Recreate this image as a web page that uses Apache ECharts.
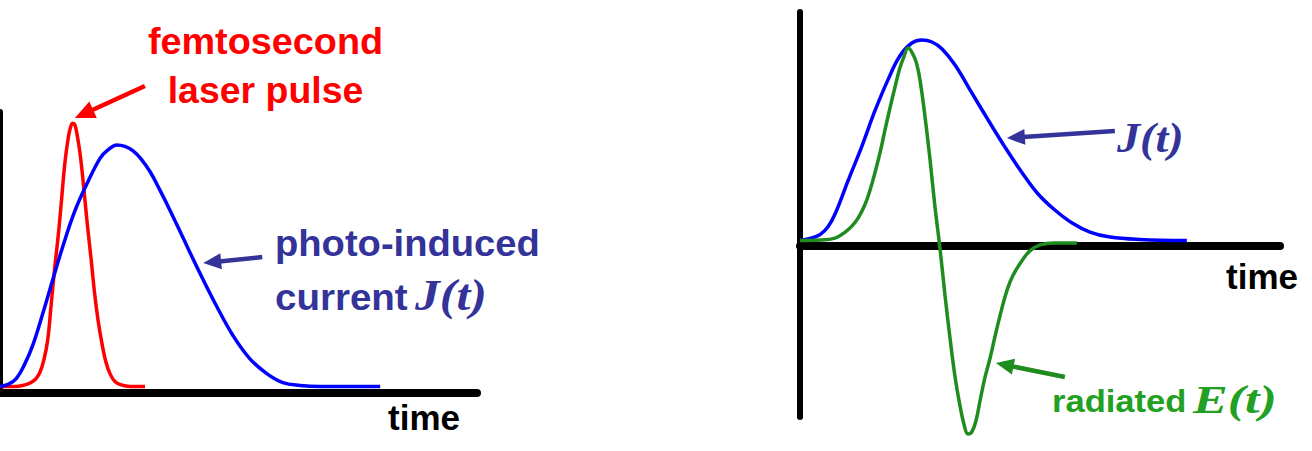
<!DOCTYPE html>
<html>
<head>
<meta charset="utf-8">
<script src="https://cdn.jsdelivr.net/npm/echarts@6/dist/echarts.min.js"></script>
<style>
html,body{margin:0;padding:0;background:#ffffff;}
#chart{width:1312px;height:451px;}
</style>
</head>
<body>
<div id="chart"></div>
<script>
// ---------- data (arbitrary time / amplitude units) ----------
// Left panel: femtosecond laser pulse
const pulseT = [0, 0.31, 0.52, 0.65, 0.755, 0.84, 0.92, 1.00, 1.07, 1.14, 1.22, 1.29, 1.36, 1.43, 1.48, 1.524, 1.57, 1.625, 1.69, 1.76, 1.83, 1.91, 1.98, 2.055, 2.14, 2.22, 2.31, 2.41, 2.54, 2.73, 3.04];
const pulseV = [0, 0, 0.006, 0.015, 0.030, 0.055, 0.101, 0.177, 0.306, 0.439, 0.572, 0.709, 0.849, 0.944, 0.986, 1.0, 0.994, 0.948, 0.868, 0.747, 0.617, 0.484, 0.359, 0.253, 0.161, 0.093, 0.047, 0.019, 0.006, 0, 0];
// Left panel: photo-induced current J(t)
const currentT = [0, 0.17, 0.34, 0.52, 0.69, 0.90, 1.11, 1.32, 1.57, 1.82, 2.10, 2.26, 2.45, 2.62, 2.79, 2.96, 3.15, 3.35, 3.56, 3.84, 4.19, 4.55, 4.89, 5.24, 5.60, 5.93, 6.29, 6.71, 7.97];
const currentV = [0, 0.008, 0.030, 0.086, 0.158, 0.279, 0.408, 0.534, 0.667, 0.769, 0.868, 0.898, 0.918, 0.912, 0.895, 0.864, 0.815, 0.747, 0.671, 0.564, 0.431, 0.302, 0.192, 0.105, 0.048, 0.015, 0.004, 0, 0];
// Right panel: J(t)
const jT = [0, 0.21, 0.42, 0.58, 0.73, 1.00, 1.29, 1.56, 1.83, 2.08, 2.33, 2.54, 2.75, 2.96, 3.23, 3.58, 3.92, 4.27, 4.63, 4.96, 5.31, 5.67, 6.04, 6.46, 7.08, 8.06];
const jV = [0, 0.010, 0.030, 0.067, 0.132, 0.297, 0.471, 0.646, 0.80, 0.92, 0.985, 1.0, 0.99, 0.955, 0.875, 0.736, 0.601, 0.466, 0.337, 0.232, 0.152, 0.087, 0.042, 0.017, 0.005, 0];
// Right panel: radiated E(t)
const eT = [0, 0.42, 0.73, 0.94, 1.08, 1.21, 1.35, 1.46, 1.56, 1.67, 1.77, 1.875, 1.98, 2.08, 2.17, 2.25, 2.33, 2.42, 2.50, 2.60, 2.71, 2.81, 2.92, 3.02, 3.125, 3.23, 3.33, 3.42, 3.50, 3.58, 3.67, 3.75, 3.85, 3.96, 4.06, 4.17, 4.27, 4.375, 4.50, 4.65, 4.79, 5.00, 5.31, 5.77];
const eV = [0, 0.002, 0.012, 0.042, 0.072, 0.112, 0.177, 0.252, 0.337, 0.441, 0.551, 0.661, 0.766, 0.86, 0.92, 0.96, 0.94, 0.89, 0.80, 0.626, 0.401, 0.172, -0.047, -0.272, -0.486, -0.68, -0.82, -0.92, -0.965, -0.955, -0.895, -0.80, -0.686, -0.586, -0.481, -0.372, -0.282, -0.207, -0.147, -0.092, -0.052, -0.022, -0.012, -0.012];

// axis ranges
const leftX = [0, 10];
const leftY = [-0.0247, 1.043];
const rightX = [0, 10];
const rightY = [-0.8803, 1.1397];
const rightAxisLevel = -0.024; // where the drawn time axis sits on the right panel

// annotation anchors (data coords near the curves)
const redArrowTip = [1.57, 1.02];
const leftJArrowTip = [4.26, 0.469];
const rightJArrowTip = [4.31, 0.511];
const eArrowTip = [4.08, -0.611];

const zip = (a, b) => a.map((v, i) => [v, b[i]]);

const RED = '#ff0000', BLUE = '#0000ff', NAVY = '#333399', GREEN = '#1e8c1e', GREEN_TXT = '#22a022';
const SANS = '"Liberation Sans", Arial, Helvetica, sans-serif';
const SERIF = '"Liberation Serif", "Times New Roman", serif';

const hiddenBits = {
  axisTick: {show: false}, axisLabel: {show: false}, splitLine: {show: false}
};

const chart = echarts.init(document.getElementById('chart'), null, {renderer: 'svg'});

chart.setOption({
  animation: false,
  backgroundColor: '#ffffff',
  grid: [
    {left: 0, top: 112, width: 477, height: 281},
    {left: 800, top: 12, width: 480, height: 405}
  ],
  xAxis: [
    Object.assign({type: 'value', gridIndex: 0, min: leftX[0], max: leftX[1],
      axisLine: {show: true, onZero: false, lineStyle: {color: '#000', width: 8}}}, hiddenBits),
    Object.assign({type: 'value', gridIndex: 1, min: rightX[0], max: rightX[1],
      axisLine: {show: true, onZero: true, onZeroAxisIndex: 2, lineStyle: {color: '#000', width: 8}}}, hiddenBits)
  ],
  yAxis: [
    Object.assign({type: 'value', gridIndex: 0, min: leftY[0], max: leftY[1],
      axisLine: {show: true, onZero: false, lineStyle: {color: '#000', width: 6}}}, hiddenBits),
    Object.assign({type: 'value', gridIndex: 1, min: rightY[0], max: rightY[1],
      axisLine: {show: true, onZero: false, lineStyle: {color: '#000', width: 6}}}, hiddenBits),
    Object.assign({type: 'value', gridIndex: 1, show: false,
      min: rightY[0] - rightAxisLevel, max: rightY[1] - rightAxisLevel,
      axisLine: {show: false}}, hiddenBits)
  ],
  series: [
    {type: 'line', name: 'femtosecond laser pulse', xAxisIndex: 0, yAxisIndex: 0,
      data: zip(pulseT, pulseV), smooth: 0.4, symbol: 'none', clip: false,
      lineStyle: {color: RED, width: 3.5}, z: 3},
    {type: 'line', name: 'photo-induced current J(t)', xAxisIndex: 0, yAxisIndex: 0,
      data: zip(currentT, currentV), smooth: 0.4, symbol: 'none', clip: false,
      lineStyle: {color: BLUE, width: 3.5}, z: 4},
    {type: 'line', name: 'J(t)', xAxisIndex: 1, yAxisIndex: 1,
      data: zip(jT, jV), smooth: 0.4, symbol: 'none', clip: false,
      lineStyle: {color: BLUE, width: 3.5}, z: 3},
    {type: 'line', name: 'radiated E(t)', xAxisIndex: 1, yAxisIndex: 1,
      data: zip(eT, eV), smooth: 0.4, symbol: 'none', clip: false,
      lineStyle: {color: GREEN, width: 3.5}, z: 4}
  ]
});

function px(gridIdx, pt) {
  return chart.convertToPixel({xAxisIndex: gridIdx, yAxisIndex: gridIdx}, pt);
}

function arrow(tip, dx, dy, color, w, headLen, headW) {
  const tx = tip[0], ty = tip[1];
  const sx = tx + dx, sy = ty + dy;
  const len = Math.hypot(dx, dy);
  const ux = -dx / len, uy = -dy / len;
  const bx = tx - ux * headLen, by = ty - uy * headLen;
  const nx = -uy, ny = ux;
  return [
    {type: 'line', z: 10, shape: {x1: sx, y1: sy, x2: bx + ux * 2, y2: by + uy * 2},
      style: {stroke: color, lineWidth: w, lineCap: 'butt'}},
    {type: 'polygon', z: 10, shape: {points: [[tx, ty], [bx + nx * headW, by + ny * headW], [bx - nx * headW, by - ny * headW]]},
      style: {fill: color}}
  ];
}

function label(text, x, y, font, color, align, scaleX) {
  return {type: 'text', x: x, y: y, scaleX: scaleX || 1, z: 10,
    style: {text: text, font: font, fill: color,
      textAlign: align, align: align, textVerticalAlign: 'middle', verticalAlign: 'middle'}};
}

const graphics = [].concat(
  arrow(px(0, redArrowTip), 70, -32, RED, 4.5, 20, 9),
  arrow(px(0, leftJArrowTip), 59, -6, NAVY, 4.5, 18, 8),
  arrow(px(1, rightJArrowTip), 108, -7, NAVY, 4.5, 18, 8),
  arrow(px(1, eArrowTip), 69, 14, GREEN, 4.5, 18, 8),
  [
    label('femtosecond', 265.5, 42, 'bold 36px ' + SANS, RED, 'center', 1.05),
    label('laser pulse', 265.5, 91, 'bold 36px ' + SANS, RED, 'center', 1.04),
    label('photo-induced', 275, 243, 'bold 36px ' + SANS, NAVY, 'left', 1.06),
    label('current', 275, 297, 'bold 36px ' + SANS, NAVY, 'left', 1.07),
    label('J(t)', 415, 295, 'italic bold 44px ' + SERIF, NAVY, 'left', 1.13),
    label('time', 388, 417, 'bold 35px ' + SANS, '#000', 'left', 1.0),
    label('time', 1226, 276, 'bold 35px ' + SANS, '#000', 'left', 1.0),
    label('J(t)', 1117, 138, 'italic bold 42px ' + SERIF, NAVY, 'left', 1.1),
    label('radiated', 1052, 401, 'bold 32px ' + SANS, GREEN_TXT, 'left', 1.08),
    label('E(t)', 1193, 400, 'italic bold 40px ' + SERIF, GREEN_TXT, 'left', 1.3)
  ]
);

chart.setOption({graphic: graphics});
</script>
</body>
</html>
